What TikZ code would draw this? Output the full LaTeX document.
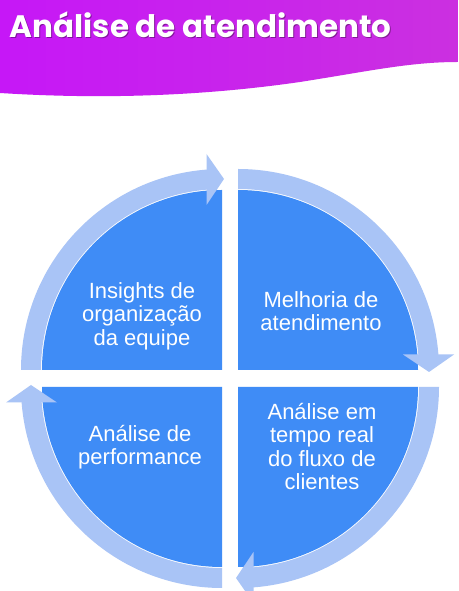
\documentclass[tikz,border=0pt]{standalone}
\usepackage{fontspec}
\setmainfont{Liberation Sans}
\newfontfamily\titlefont{Poppins}
\definecolor{quadblue}{HTML}{3F8CF6}
\definecolor{bandblue}{HTML}{A9C4F6}
\definecolor{purpleL}{HTML}{C617F7}
\definecolor{purpleR}{HTML}{CB30E0}
\tikzset{
  quad/.style={fill=quadblue},
  band/.style={fill=bandblue},
  lbl/.style={text=white, align=center, inner sep=0pt,
    font=\fontsize{22}{23.5}\selectfont},
  ttl/.style={anchor=base west, inner sep=0pt,
    font=\titlefont\bfseries\fontsize{31}{31}\selectfont},
}
\newcommand{\cyclearrow}[2]{%
  \begin{scope}[shift={#1}, rotate=#2]
    \fill[band] (180:181) arc[start angle=180, end angle=94, radius=181]
      -- (94:201) arc[start angle=94, end angle=180, radius=201] -- cycle;
    \fill[band] (-15.5,216) -- (2,191) -- (-15.5,165) -- cycle;
  \end{scope}}
\begin{document}
\begin{tikzpicture}[x=1pt,y=1pt]
  \useasboundingbox (0,0) rectangle (458,591);
  \fill[white] (0,0) rectangle (458,591);
  % header
  \shade[left color=purpleL, right color=purpleR]
    (0,591) -- (0,498) .. controls (110,491) and (210,496) .. (300,509)
    .. controls (370,520) and (410,529) .. (458,529) -- (458,591) -- cycle;
  \node[ttl, text=black, opacity=0.35] (titleshadow) at (10.5,552) {Análise de atendimento};
  \node[ttl, text=white] (title) at (9.5,553.5) {Análise de atendimento};
  % quadrants
  \coordinate (cTL) at (222,221);
  \coordinate (cTR) at (238,221);
  \coordinate (cBL) at (222,204);
  \coordinate (cBR) at (238,204);
  \fill[quad] (cTL) -- ++(-180,0) arc[start angle=180, end angle=90, radius=180] -- cycle;
  \fill[quad] (cTR) -- ++(0,180) arc[start angle=90, end angle=0, radius=180] -- cycle;
  \fill[quad] (cBR) -- ++(180,0) arc[start angle=0, end angle=-90, radius=180] -- cycle;
  \fill[quad] (cBL) -- ++(0,-180) arc[start angle=-90, end angle=-180, radius=180] -- cycle;
  % cycle arrows
  \cyclearrow{(cTL)}{0}
  \cyclearrow{(cTR)}{-90}
  \cyclearrow{(cBR)}{-180}
  \cyclearrow{(cBL)}{90}
  % labels
  \node[lbl] (insights) at (142,275) {Insights de\\organização\\da equipe};
  \node[lbl] (melhoria) at (321,280) {Melhoria de\\atendimento};
  \node[lbl] (performance) at (140,144) {Análise de\\performance};
  \node[lbl] (tempo) at (322,144.5) {Análise em\\tempo real\\do fluxo de\\clientes};
\end{tikzpicture}
\end{document}
